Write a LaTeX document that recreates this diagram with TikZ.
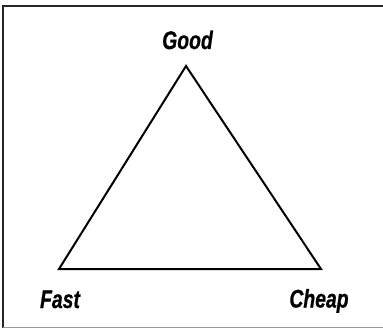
\documentclass[tikz,border=0pt]{standalone}
\usepackage{fontspec}
\setmainfont{Liberation Sans}
\newfontfamily\lblfont[BoldItalicFeatures={FakeBold=0.8}]{Liberation Sans}
\begin{document}
\begin{tikzpicture}[x=1pt,y=-1pt,
  lbl/.style={font=\lblfont\fontsize{25.5}{30}\selectfont\bfseries\itshape, inner sep=0pt, xscale=0.76, anchor=base},
  tri/.style={line width=2pt, line join=miter}]
\useasboundingbox (0,0) rectangle (383,329);
\fill[white] (0,0) rectangle (383,329);
% frame (no right edge)
\draw[line width=2.2pt, black!85] (383,6) -- (3,6) -- (3,328);
\draw[line width=1.5pt, black!40] (3,327.5) -- (383,327.5);
% vertices
\coordinate (G) at (186,66);
\coordinate (F) at (59,269);
\coordinate (C) at (321,269);
\draw[tri] (G) -- (F) -- (C) -- cycle;
% labels
\node[lbl] (good) at (187.5,49) {Good};
\node[lbl] (fast) at (60,308) {Fast};
\node[lbl] (cheap) at (319,307.5) {Cheap};
\end{tikzpicture}
\end{document}
